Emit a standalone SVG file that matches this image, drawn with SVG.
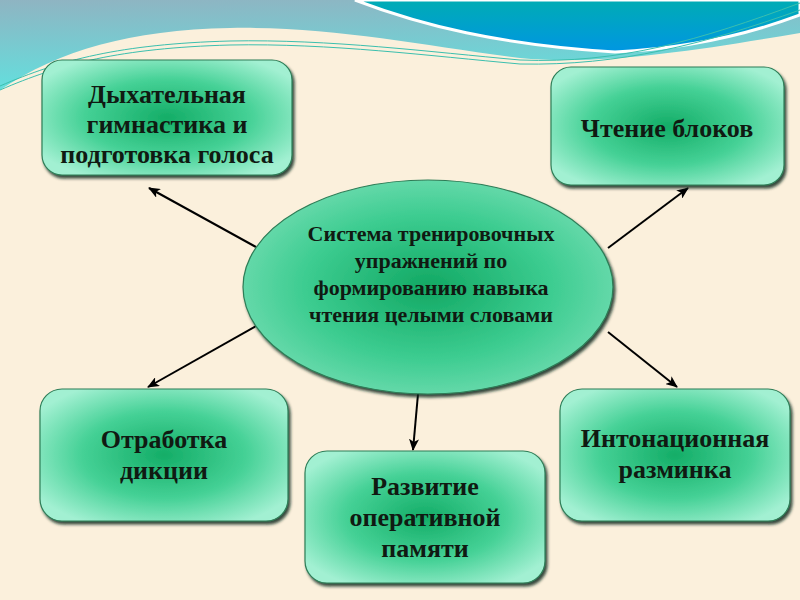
<svg xmlns="http://www.w3.org/2000/svg" width="800" height="600" viewBox="0 0 800 600">
<defs>
<style>
.box{fill:url(#ng);stroke:#2e7d57;stroke-width:1.2;filter:url(#sh)}
.t{font-weight:bold;fill:#101a12;text-anchor:middle}
.n{font-size:26px}
.c{font-size:22px}
.con{stroke:#000;stroke-width:2;fill:none;marker-end:url(#ah)}
</style>
<radialGradient id="ng" cx="50%" cy="50%" r="60%">
<stop offset="0" stop-color="#14ad67"/>
<stop offset="0.55" stop-color="#45d196"/>
<stop offset="1" stop-color="#a2f0d2"/>
</radialGradient>
<radialGradient id="eg" cx="50%" cy="50%" r="55%">
<stop offset="0" stop-color="#12a863"/>
<stop offset="0.6" stop-color="#3ccc90"/>
<stop offset="1" stop-color="#6fdcb0"/>
</radialGradient>
<linearGradient id="sky" x1="0" y1="0" x2="0.15" y2="1">
<stop offset="0" stop-color="#8fb4c2"/>
<stop offset="1" stop-color="#62e0de"/>
</linearGradient>
<linearGradient id="blue" x1="0" y1="0" x2="0" y2="1">
<stop offset="0" stop-color="#00acb4"/>
<stop offset="1" stop-color="#0096e2"/>
</linearGradient>
<filter id="sh" x="-10%" y="-10%" width="125%" height="130%">
<feDropShadow dx="2" dy="3" stdDeviation="1.8" flood-color="#0d2a1c" flood-opacity="0.85"/>
</filter>
<marker id="ah" markerWidth="12" markerHeight="10" refX="11" refY="5" orient="auto" markerUnits="userSpaceOnUse">
<path d="M0,0 L12,5 L0,10 L3,5 Z" fill="#000"/>
</marker>
</defs>
<g id="background">
<rect x="0" y="0" width="800" height="600" fill="#fbf0dc"/>
<path d="M0,0 H800 V33 C700,50 600,66 520,58 C420,45 330,26 230,28 C130,30 60,50 0,90 Z" fill="url(#sky)"/>
<path d="M355,0 C420,25 500,45 615,52 C700,48 760,30 800,15 V0 Z" fill="url(#blue)" stroke="#ffffff" stroke-width="3"/>
<path d="M0,86 C60,60 120,44 230,41 C330,39 430,52 520,60 C620,64 700,40 800,3" fill="none" stroke="#3bbfae" stroke-width="1"/>
<path d="M0,90 C60,64 120,48 230,45 C330,43 430,56 520,64 C620,66 705,44 800,10" fill="none" stroke="#3bbfae" stroke-width="1"/>
</g>
<g id="connectors">
<line class="con" x1="256" y1="247" x2="149" y2="188"/>
<line class="con" x1="608" y1="248" x2="688" y2="188"/>
<line class="con" x1="256" y1="326" x2="148" y2="387"/>
<line class="con" x1="608" y1="332" x2="677" y2="387"/>
<line class="con" x1="418" y1="394" x2="413" y2="450"/>
</g>
<g font-family="Liberation Serif, Times New Roman, serif">
<g id="center">
<ellipse cx="428" cy="287" rx="185" ry="107" fill="url(#eg)" stroke="#2e7d57" stroke-width="1.2" filter="url(#sh)"/>
<text class="t c" x="431" y="241">Система тренировочных</text>
<text class="t c" x="431" y="268">упражнений по</text>
<text class="t c" x="431" y="295">формированию навыка</text>
<text class="t c" x="431" y="322">чтения целыми словами</text>
</g>
<g id="node-breathing">
<rect class="box" x="42" y="60" width="250" height="115" rx="20"/>
<text class="t n" x="167" y="103">Дыхательная</text>
<text class="t n" x="167" y="133">гимнастика и</text>
<text class="t n" x="167" y="163">подготовка голоса</text>
</g>
<g id="node-blocks">
<rect class="box" x="551" y="67" width="233" height="118" rx="20"/>
<text class="t n" x="667" y="137">Чтение блоков</text>
</g>
<g id="node-diction">
<rect class="box" x="40" y="389" width="248" height="132" rx="22"/>
<text class="t n" x="164" y="448">Отработка</text>
<text class="t n" x="164" y="479">дикции</text>
</g>
<g id="node-memory">
<rect class="box" x="305" y="451" width="240" height="132" rx="22"/>
<text class="t n" x="425" y="495">Развитие</text>
<text class="t n" x="425" y="526">оперативной</text>
<text class="t n" x="425" y="557">памяти</text>
</g>
<g id="node-intonation">
<rect class="box" x="560" y="389" width="230" height="132" rx="22"/>
<text class="t n" x="675" y="447">Интонационная</text>
<text class="t n" x="675" y="478">разминка</text>
</g>
</g>
</svg>
